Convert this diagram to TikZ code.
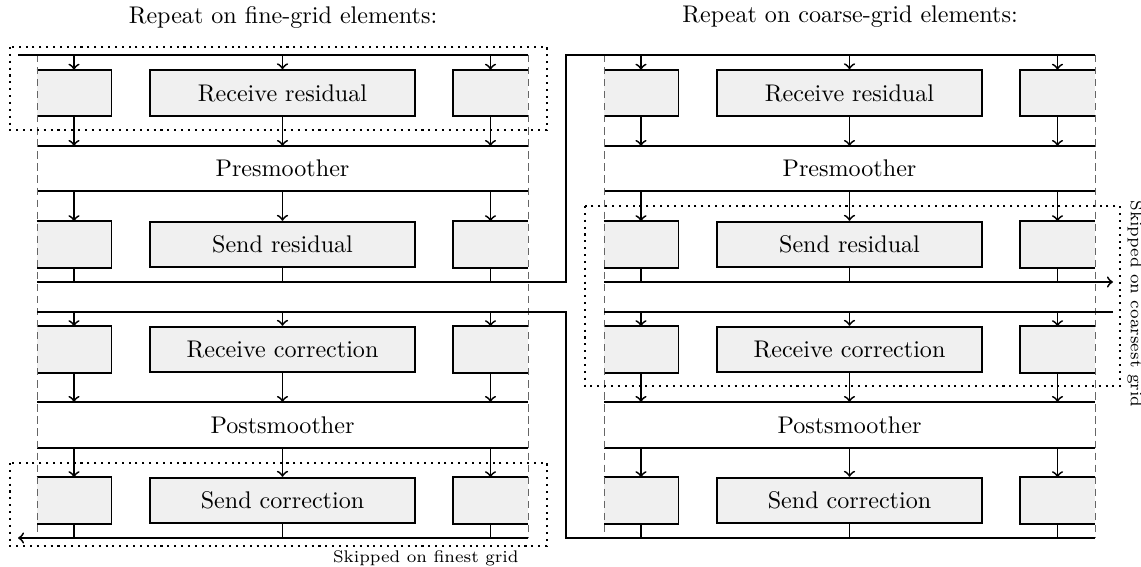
\documentclass[tikz,border=0pt]{standalone}
\newcommand\pxu{0.415pt}
\tikzset{
        title/.style={inner sep=0pt},
        task/.style={draw, line width=0.75pt, fill=black!6, inner sep=0pt, minimum width=265*\pxu, minimum height=45.5*\pxu},
        side/.style={fill=black!6, inner sep=0pt, minimum width=74*\pxu, minimum height=45.5*\pxu},
        smoother/.style={inner sep=0pt, minimum width=491*\pxu, minimum height=45*\pxu},
        bar/.style={line width=0.75pt},
        flow/.style={->, line width=0.75pt},
        seam/.style={dash pattern=on 3pt off 2pt, black!60, line width=0.4pt},
        skipped/.style={dotted, line width=0.85pt},
        skipnote/.style={font=\scriptsize, inner sep=0pt}
          }

\begin{document}
\begin{tikzpicture}[x=\pxu, y=-\pxu]
        \useasboundingbox (0,0) rectangle (1141,567);
        \node[title] (f-title) at (283,17) {Repeat on fine-grid elements:};
        \node[title] (c-title) at (850,17) {Repeat on coarse-grid elements:};
        \foreach \pan/\dx in {f/0, c/567}{
          \coordinate (\pan-e) at (\dx+528,0);
          \node[smoother] (\pan-pre) at (\dx+282.5,168.5) {Presmoother};
          \node[smoother] (\pan-post) at (\dx+282.5,425) {Postsmoother};
          \foreach \row/\y/\ya/\yb/\outstyle/\txt in {rr/93/55/146/flow/Receive residual,
              sr/244.5/191/282/bar/Send residual, rc/349.5/312/402/flow/Receive correction,
              sc/500.5/448/538/bar/Send correction}{
            \coordinate (\pan-\row-in) at (\dx+37,\ya);
            \coordinate (\pan-\row-out) at (\dx+37,\yb);
            \node[side] (\pan-\row-l) at (\dx+74,\y) {};
            \node[task] (\pan-\row-m) at (\dx+282.5,\y) {\txt};
            \node[side] (\pan-\row-r) at (\dx+490.5,\y) {};
            \draw[bar] (\pan-\row-l.north west) -- (\pan-\row-l.north east)
              -- (\pan-\row-l.south east) -- (\pan-\row-l.south west);
            \draw[bar] (\pan-\row-r.north east) -- (\pan-\row-r.north west)
              -- (\pan-\row-r.south west) -- (\pan-\row-r.south east);
            \foreach \col in {l,m,r}{
              \draw[flow] (\pan-\row-\col.north |- \pan-\row-in) -- (\pan-\row-\col.north);
              \draw[\outstyle] (\pan-\row-\col.south) -- (\pan-\row-\col.south |- \pan-\row-out);
            }
          }
          % smoother borders
          \draw[bar] (\pan-rr-out) -- (\pan-rr-out -| \pan-e);
          \draw[bar] (\pan-sr-in) -- (\pan-sr-in -| \pan-e);
          \draw[bar] (\pan-rc-out) -- (\pan-rc-out -| \pan-e);
          \draw[bar] (\pan-sc-in) -- (\pan-sc-in -| \pan-e);
          \draw[seam] (\pan-rr-in) -- (\pan-sc-out);
          \draw[seam] (\pan-rr-in -| \pan-e) -- (\pan-sc-out -| \pan-e);
        }
        % hand-over between the grids
        \coordinate (entry) at (18,55);
        \coordinate (exit) at (18,538);
        \coordinate (up) at (566,55);
        \coordinate (down) at (566,538);
        \coordinate (c-x) at (1113,0);
        \draw[bar] (entry) -- (f-rr-in -| f-e);
        \draw[flow] (f-sc-out -| f-e) -- (exit);
        \draw[bar] (f-sr-out) -- (f-sr-out -| up) -- (up) -- (c-rr-in -| c-e);
        \draw[bar] (f-rc-in) -- (f-rc-in -| down) -- (down) -- (c-sc-out -| c-e);
        \draw[flow] (c-sr-out) -- (c-sr-out -| c-x);
        \draw[bar] (c-rc-in -| c-x) -- (c-rc-in);
        % skipped parts
        \draw[skipped] (10,47) rectangle (547,130);
        \draw[skipped] (10,463) rectangle (547,546);
        \draw[skipped] (585,206) rectangle (1120,386);
        \node[skipnote, anchor=north east] (fine-note) at (519,550) {Skipped on finest grid};
        \node[skipnote, rotate=-90, anchor=south west] (coarse-note) at (1127,200) {Skipped on coarsest grid};
      \end{tikzpicture}
\end{document}
